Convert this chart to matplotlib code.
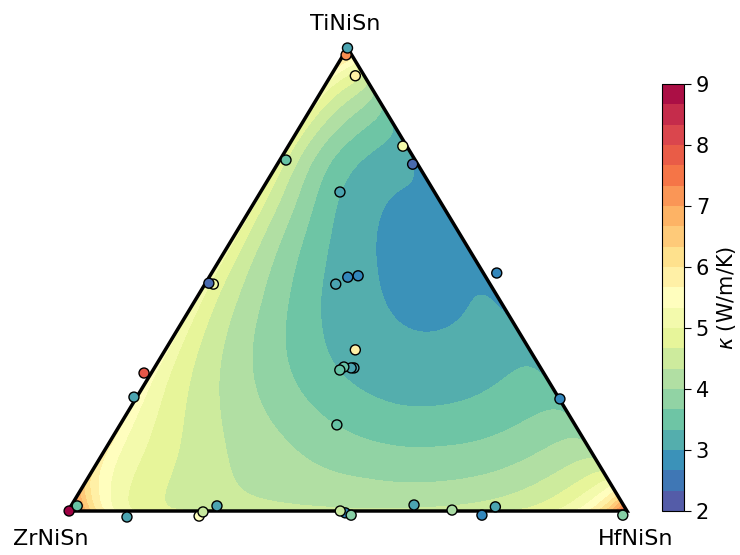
import numpy as np
import matplotlib
matplotlib.use("Agg")
import matplotlib.pyplot as plt
import matplotlib.tri as mtri
from matplotlib.colors import BoundaryNorm

# measured samples: Ti and Hf fraction (Zr is the rest), kappa in W/m/K
sample_ti = [0.985, 1.0, 0.94, 0.758, 0.788, 0.749, 0.514, 0.689, 0.508, 0.505,
             0.49, 0.49, 0.492, 0.298, 0.246, 0.348, 0.309, 0.309, 0.311, 0.3045,
             0.186, 0.242, -0.009, 0.0, 0.011, -0.013, -0.011, -0.002, 0.011,
             -0.004, 0.0, -0.009, 0.013, 0.002, -0.009, 0.009]
sample_hf = [0.005, 0.0, 0.044, 0.011, 0.205, 0.242, 0.51, 0.142, 0.265, 0.248,
             0.234, 0.015, 0.006, -0.013, -0.005, 0.34, 0.357, 0.352, 0.338, 0.334,
             0.388, 0.759, 0.997, 0.002, 0.011, 0.112, 0.24, 0.2425, 0.261,
             0.498, 0.487, 0.511, 0.6125, 0.686, 0.745, 0.76]
sample_kappa = [7.2, 3.15, 5.7, 3.5, 5.2, 2.5, 2.85, 3.15, 2.85, 2.85,
                3.15, 5.0, 2.5, 7.7, 3.2, 5.8, 3.2, 3.2, 3.4, 3.5,
                3.5, 2.85, 3.8, 8.8, 3.4, 3.15, 5.6, 4.4, 3.2,
                2.85, 4.4, 3.9, 3.2, 4.1, 2.8, 3.2]

# readings of the model surface (Ti, Hf, kappa)
field_ti = [0, 0.02, 0.056, 0.1, 0.15, 0.3, 0.5, 0.7, 0.85, 0.95, 1.0,
            0, 0, 0, 0, 0, 0, 0, 0, 0, 0, 0, 0, 0,
            0.02, 0.04, 0.06, 0.073, 0.104, 0.138, 0.197, 0.24, 0.33, 0.4, 0.5, 0.6,
            0.7, 0.75, 0.79, 0.845, 0.9, 0.94, 0.97,
            0.758, 0.758, 0.758,
            0.67, 0.67, 0.672,
            0.456, 0.456, 0.456, 0.456, 0.456,
            0.726, 0.628, 0.52, 0.456, 0.417, 0.40,
            0.6, 0.5, 0.333, 0.326, 0.283, 0.218, 0.24,
            0.13, 0.13, 0.13, 0.13, 0.13,
            0.06, 0.06, 0.06, 0.03]
field_hf = [0, 0, 0, 0, 0, 0, 0, 0, 0, 0, 0,
            0.015, 0.034, 0.1, 0.2, 0.3, 0.5, 0.65, 0.8, 0.88, 0.92, 0.95, 0.975, 1.0,
            0.98, 0.96, 0.94, 0.927, 0.896, 0.862, 0.803, 0.76, 0.67, 0.6, 0.5, 0.4,
            0.3, 0.25, 0.21, 0.155, 0.1, 0.06, 0.03,
            0.02, 0.05, 0.1,
            0.05, 0.1, 0.133,
            0.035, 0.08, 0.125, 0.17, 0.214,
            0.217, 0.258, 0.316, 0.366, 0.439, 0.537,
            0.35, 0.45, 0.333, 0.297, 0.354, 0.485, 0.6,
            0.1, 0.3, 0.45, 0.6, 0.75,
            0.2, 0.5, 0.8, 0.03]
field_kappa = [9.0, 7.5, 6.4, 6.0, 5.8, 5.5, 5.2, 5.05, 5.2, 5.6, 6.6,
               7.8, 6.4, 5.1, 4.7, 4.5, 4.4, 4.45, 4.67, 5.0, 5.6, 6.3, 7.0, 7.9,
               6.5, 5.6, 5.0, 4.75, 4.33, 4.0, 3.67, 3.33, 3.15, 2.96, 2.86, 2.8,
               2.82, 2.88, 2.95, 3.33, 3.8, 4.6, 5.3,
               4.6, 4.0, 3.45,
               4.4, 3.8, 3.33,
               4.67, 4.33, 4.0, 3.67, 3.33,
               2.97, 3.0, 3.0, 3.0, 3.0, 2.98,
               2.85, 2.88, 3.25, 3.33, 3.33, 3.33, 3.33,
               4.9, 4.2, 3.8, 3.75, 3.9,
               4.5, 4.1, 4.3, 6.2]

levels = np.linspace(2, 9, 22)
corner_width = 0.04
smoothing = 0.02


def basis(t, h):
    t = np.clip(np.asarray(t, float), 0, 1)
    h = np.clip(np.asarray(h, float), 0, 1)
    z = np.clip(1 - t - h, 0, 1)
    cols = [np.ones_like(t), t, h, t * t, t * h, h * h,
            t ** 3, t * t * h, t * h * h, h ** 3,
            np.sqrt(t), np.sqrt(h), np.sqrt(z),
            np.exp(-(1 - z) / corner_width),
            np.exp(-(1 - h) / corner_width),
            np.exp(-(1 - t) / corner_width)]
    return np.stack(cols, axis=-1)


def tps_kernel(r):
    with np.errstate(divide="ignore", invalid="ignore"):
        k = r * r * np.log(r)
    return np.nan_to_num(k)


def to_xy(t, h):
    t = np.asarray(t, float)
    h = np.asarray(h, float)
    return h + t / 2, t


ft = np.array(field_ti, float)
fh = np.array(field_hf, float)
fk = np.array(field_kappa, float)

# smooth trend + smoothing thin plate spline on what is left over
coef = np.linalg.lstsq(basis(ft, fh), fk, rcond=None)[0]
res = fk - basis(ft, fh) @ coef
px, py = to_xy(ft, fh)
py = py * 0.866
m = len(fk)
d = np.hypot(px[:, None] - px[None, :], py[:, None] - py[None, :])
P = np.column_stack([np.ones(m), px, py])
A = np.zeros((m + 3, m + 3))
A[:m, :m] = tps_kernel(d) + smoothing * np.eye(m)
A[:m, m:] = P
A[m:, :m] = P.T
sol = np.linalg.solve(A, np.concatenate([res, np.zeros(3)]))
w, a = sol[:m], sol[m:]

# fine barycentric grid
n = 160
gt, gh = [], []
for i in range(n + 1):
    for j in range(n + 1 - i):
        gt.append(i / n)
        gh.append(j / n)
gt = np.array(gt)
gh = np.array(gh)
gx, gy = to_xy(gt, gh)
gy2 = gy * 0.866
dg = np.hypot(gx[:, None] - px[None, :], gy2[:, None] - py[None, :])
gk = basis(gt, gh) @ coef + tps_kernel(dg) @ w + a[0] + a[1] * gx + a[2] * gy2
gk = np.clip(gk, 2.001, 8.999)

fig = plt.figure(figsize=(7.4, 5.55), dpi=100)
ax = fig.add_axes([68 / 740, 44 / 555, 559 / 740, 463 / 555])
cax = fig.add_axes([662 / 740, 44 / 555, 22 / 740, 427 / 555])

tri = mtri.Triangulation(gx, gy)
cs = ax.tricontourf(tri, gk, levels=levels, cmap="Spectral_r")

ax.plot([0, 1, 0.5, 0], [0, 0, 1, 0], color="k", lw=2.5, zorder=2,
        clip_on=False, solid_joinstyle="miter")

sx, sy = to_xy(sample_ti, sample_hf)
norm = BoundaryNorm(levels, 256)
ax.scatter(sx, sy, c=sample_kappa, cmap="Spectral_r", norm=norm, s=52,
           edgecolors="k", linewidths=1, zorder=3, clip_on=False)

ax.set_xlim(0, 1)
ax.set_ylim(0, 1)
ax.axis("off")

fig.text(345 / 740, 1 - 24 / 555, "TiNiSn", ha="center", va="center", fontsize=16)
fig.text(51 / 740, 1 - 539 / 555, "ZrNiSn", ha="center", va="center", fontsize=16)
fig.text(636 / 740, 1 - 539 / 555, "HfNiSn", ha="center", va="center", fontsize=16)

cb = fig.colorbar(cs, cax=cax, ticks=range(2, 10))
cb.ax.tick_params(labelsize=15, length=5)
cb.set_label(r"$\kappa$ (W/m/K)", fontsize=15)

fig.savefig("out.png", dpi=100)
